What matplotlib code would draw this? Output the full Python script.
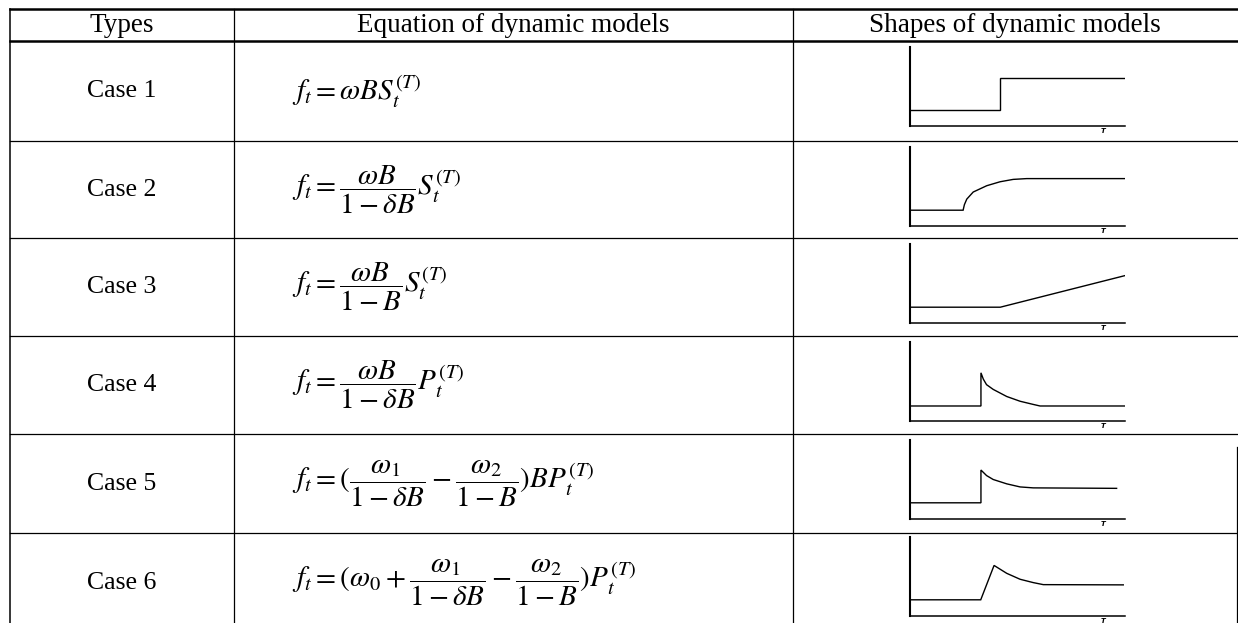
import numpy as np
import matplotlib.pyplot as plt

plt.rcParams['mathtext.fontset'] = 'stix'

# table text
headers = ['Types', 'Equation of dynamic models', 'Shapes of dynamic models']
cases = ['Case 1', 'Case 2', 'Case 3', 'Case 4', 'Case 5', 'Case 6']
equations = [
    r'$f_t = \omega B S_t^{(T)}$',
    r'$f_t = \dfrac{\omega B}{1-\delta B} S_t^{(T)}$',
    r'$f_t = \dfrac{\omega B}{1-B} S_t^{(T)}$',
    r'$f_t = \dfrac{\omega B}{1-\delta B} P_t^{(T)}$',
    r'$f_t = (\dfrac{\omega_1}{1-\delta B} - \dfrac{\omega_2}{1-B}) B P_t^{(T)}$',
    r'$f_t = (\omega_0 + \dfrac{\omega_1}{1-\delta B} - \dfrac{\omega_2}{1-B}) P_t^{(T)}$',
]

# shapes (x: 0-100 along the T axis, y: 0-10)
case1_x = [0, 42, 42, 100]
case1_y = [2.0, 2.0, 6.1, 6.1]
case2_x = [0, 24.7, 25.3, 26.4, 29.4, 35.7, 41.9, 48.0, 54.3, 100]
case2_y = [2.0, 2.0, 2.7, 3.4, 4.3, 5.1, 5.6, 5.9, 6.0, 6.0]
case3_x = [0, 42, 100]
case3_y = [2.0, 2.0, 6.0]
case4_x = [0, 33, 33, 34.1, 35.6, 38.7, 45.0, 51.2, 57.3, 60.5, 100]
case4_y = [1.9, 1.9, 6.1, 5.3, 4.6, 4.0, 3.1, 2.5, 2.1, 1.9, 1.9]
case5_x = [0, 33, 33, 35.6, 38.7, 45.0, 51.2, 57.3, 96.1]
case5_y = [2.05, 2.05, 6.2, 5.5, 5.0, 4.45, 4.06, 3.94, 3.88]
case6_x = [0, 32.9, 39.1, 45.0, 51.2, 57.3, 62.0, 99.2]
case6_y = [2.05, 2.05, 6.4, 5.4, 4.65, 4.23, 3.97, 3.94]
shapes = [(case1_x, case1_y), (case2_x, case2_y), (case3_x, case3_y),
          (case4_x, case4_y), (case5_x, case5_y), (case6_x, case6_y)]

W, H = 1238, 623
fig = plt.figure(figsize=(W / 100, H / 100), dpi=100)
ax = fig.add_axes([0, 0, 1, 1])
ax.set_xlim(0, W)
ax.set_ylim(H, 0)
ax.axis('off')

# table grid (pixel layout)
col_x = [10, 234, 793, 1237]
top_y, head_y = 9, 41
row_tops = [41, 141, 238, 336, 434, 533]
row_bottoms = row_tops[1:] + [H + 10]

ax.plot([col_x[0], col_x[-1]], [top_y, top_y], color='black', lw=1.8)
ax.plot([col_x[0], col_x[-1]], [head_y, head_y], color='black', lw=1.8)
for y in row_tops[1:]:
    ax.plot([col_x[0], col_x[-1]], [y, y], color='black', lw=0.9)
for x in col_x[:3]:
    ax.plot([x, x], [top_y, H], color='black', lw=1.1 if x == col_x[0] else 0.9)
ax.plot([col_x[3], col_x[3]], [447, H], color='black', lw=0.9)

serif = ['Liberation Serif', 'DejaVu Serif']
for i, h in enumerate(headers):
    ax.text((col_x[i] + col_x[i + 1]) / 2, (top_y + head_y) / 2 + 1, h,
            ha='center', va='center', fontsize=19.5, family=serif)

for i in range(len(cases)):
    cy = (row_tops[i] + row_bottoms[i]) / 2 if i < 5 else row_tops[i] + 50
    ax.text((col_x[0] + col_x[1]) / 2, cy, cases[i],
            ha='center', va='center', fontsize=18.5, family=serif)
    ax.text(292, cy, equations[i], ha='left', va='center', fontsize=21)

    # small shape plot
    base = row_tops[i] + 85 if i < 5 else row_tops[i] + 83
    sub = fig.add_axes([910 / W, 1 - base / H, 215 / W, 79 / H])
    sx, sy = shapes[i]
    sub.plot(sx, sy, color='black', lw=1.0, solid_joinstyle='miter')
    sub.set_xlim(0, 100)
    sub.set_ylim(0, 10)
    sub.set_xticks([])
    sub.set_yticks([])
    sub.spines['top'].set_visible(False)
    sub.spines['right'].set_visible(False)
    sub.spines['left'].set_linewidth(1.5)
    sub.spines['bottom'].set_linewidth(1.1)
    sub.patch.set_alpha(0)
    sub.text(90, -0.25, 'T', ha='center', va='top', fontsize=5,
             style='italic', fontweight='bold', family='DejaVu Sans',
             clip_on=False)

fig.savefig('out.png', dpi=100)
